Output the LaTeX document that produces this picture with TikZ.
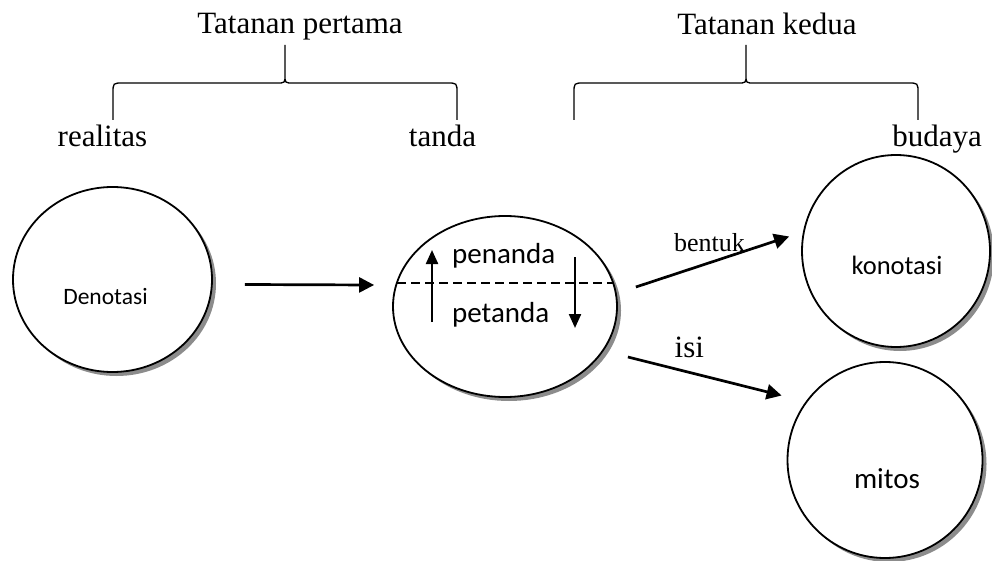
\documentclass[tikz,border=0pt]{standalone}
\usepackage{fontspec}
\setmainfont{Liberation Serif}
\newfontfamily\calibri{Carlito}
\usepackage{tikz}
\usetikzlibrary{shadows}
\usetikzlibrary{arrows.meta, positioning, shapes.geometric}

\begin{document}
\begin{tikzpicture} [x=1pt, y=-1pt, on grid,
    bulat/.style ={ellipse, draw, line width=1.8pt, fill=white, inner sep=0pt,
      drop shadow={shadow xshift=4pt, shadow yshift=-4pt, fill=black!45, opacity=1}},
    teks/.style ={font=\calibri\fontsize{29}{35}\selectfont, inner sep=0pt},
    judul/.style ={font=\fontsize{31}{37}\selectfont, anchor=base, inner sep=0pt},
    panah/.style ={line width=2.7pt, -{Triangle[length=15pt, width=15pt]}},
    panahkecil/.style ={line width=2.2pt, -{Triangle[length=14pt, width=12pt]}}]
		\useasboundingbox (0,0) rectangle (992,561);
		% lingkaran
		\node[bulat, minimum width=199pt, minimum height=185pt,
		  label={[teks, font=\calibri\fontsize{23.5}{28}\selectfont, xshift=-7pt, yshift=-16.8pt]center:Denotasi}] (den) at (112.5,279.5) {};
		\node[bulat, minimum width=224pt, minimum height=181pt] (tanda) [below right=27pt and 392.5pt of den] {};
		\node[bulat, minimum width=188pt, minimum height=192pt,
		  label={[teks, font=\calibri\fontsize{26.5}{32}\selectfont, xshift=1pt, yshift=-14.5pt]center:konotasi}] (kon) [above right=55.5pt and 391pt of tanda] {};
		\node[bulat, minimum width=195pt, minimum height=196pt,
		  label={[teks, xshift=2pt, yshift=-18.5pt]center:mitos}] (mitos) [below left=209pt and 11pt of kon] {};
		% judul dan kurung kurawal
		\node[judul] (tp) at (300,34) {Tatanan pertama};
		\node[judul] (tk) at (767,35) {Tatanan kedua};
		\node[judul] (real) at (102.5,147) {realitas};
		\node[judul] (tnd) at (442.5,147) {tanda};
		\node[judul] (bud) at (937,147) {budaya};
		\foreach \a/\b/\c in {113/285/457, 574/746/918}
		  \draw[line width=1.3pt] (\a,120) -- (\a,93) .. controls (\a,83) .. ({\a+10},83) -- ({\b-8},83)
		    .. controls (\b,83) .. (\b,75) -- (\b,45)
		    (\b,75) .. controls (\b,83) .. ({\b+8},83) -- ({\c-10},83) .. controls (\c,83) .. (\c,93) -- (\c,120);
		% isi tanda
		\draw[line width=1.5pt, dash pattern=on 9pt off 5pt] ([shift={(-108,-23.5)}]tanda.center) -- ([shift={(108,-23.5)}]tanda.center);
		\node[teks, anchor=base west] (pnd) at ([shift={(-53,-43.5)}]tanda.center) {penanda};
		\node[teks, anchor=base west] (ptd) at ([shift={(-53,15.5)}]tanda.center) {petanda};
		\draw[panahkecil] ([shift={(-73,15.5)}]tanda.center) -- ([shift={(-73,-56.5)}]tanda.center);
		\draw[panahkecil] ([shift={(70,-49.5)}]tanda.center) -- ([shift={(70,21.5)}]tanda.center);
		% panah
		\draw[panah] ([shift={(32,5)}]den.east) -- ([shift={(-18,-21.5)}]tanda.west);
		\draw[panah] ([shift={(18,-19.5)}]tanda.east) -- node[pos=0.48, yshift=20pt, font=\fontsize{26}{31}\selectfont] {bentuk} ([shift={(-12,-14.5)}]kon.west);
		\draw[panah] ([shift={(10,50.5)}]tanda.east) -- node[pos=0.4, yshift=25pt, font=\fontsize{31}{37}\selectfont] {isi} ([shift={(-5,-64.5)}]mitos.west);
	\end{tikzpicture}
\end{document}
